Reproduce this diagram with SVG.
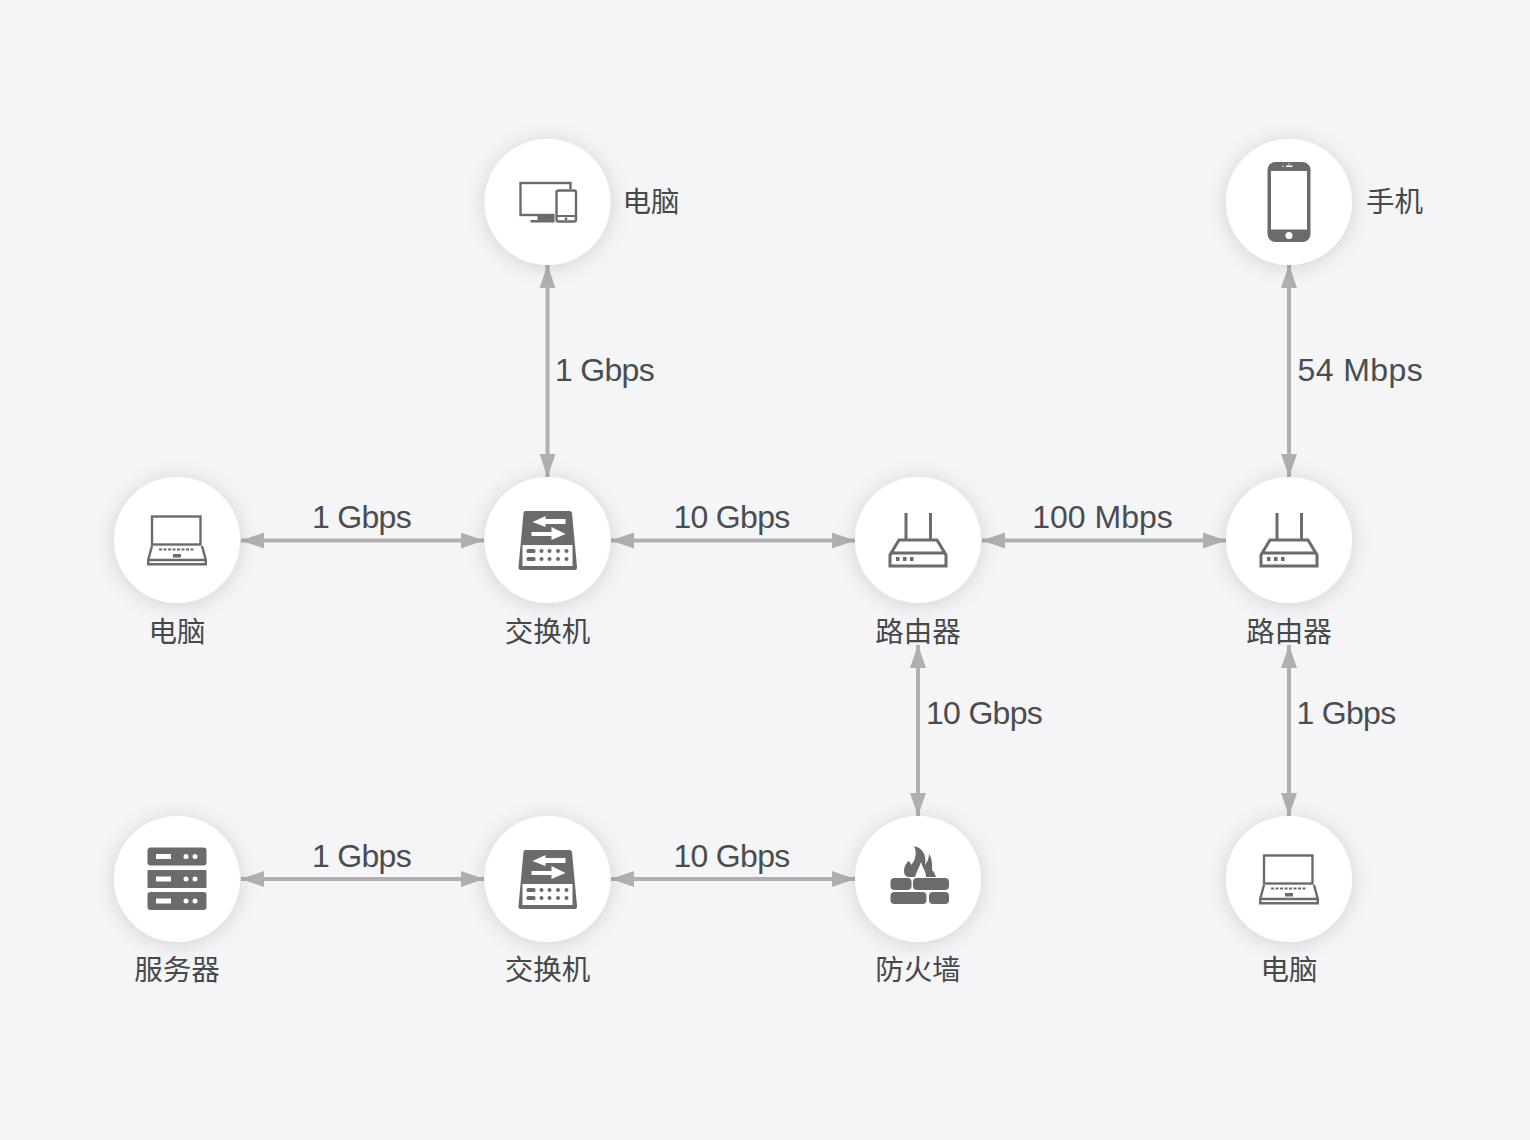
<svg xmlns="http://www.w3.org/2000/svg" width="1530" height="1140" viewBox="0 0 1530 1140">
<style>
.bg{fill:#f5f5f7}
.c{fill:#fff;filter:url(#sh)}
.i{fill:#6b6b6d}
.s{fill:none;stroke:#6b6b6d;stroke-width:3}
.s2{fill:none;stroke:#6b6b6d;stroke-width:2.4}
.w{fill:#fff}
.l{stroke:#b0b0b0;stroke-width:4;fill:none;marker-start:url(#a);marker-end:url(#a)}
.t{font-family:"Liberation Sans",sans-serif;font-size:32px;fill:#4a4d50}
.g{letter-spacing:-.7px}
.z{font-family:"Noto Sans CJK SC",sans-serif;font-size:28.500px;fill:#46484a;font-weight:400}
.m{text-anchor:middle}
</style>
<defs>
<filter id="sh" x="-30%" y="-30%" width="160%" height="160%"><feDropShadow dx="0" dy="2" stdDeviation="10" flood-color="#000" flood-opacity=".15"/></filter>
<marker id="a" markerUnits="userSpaceOnUse" markerWidth="24" markerHeight="18" refX="23" refY="8" orient="auto-start-reverse" viewBox="0 0 24 16"><path d="M0 0L23 8L0 16Z" fill="#b0b0b0"/></marker>
<g id="laptop">
<rect class="s2" x="-25" y="-23.500" width="48.500" height="28"/>
<path class="s2" d="M-25 6L-28.800 20V24.200H28.800V20L25 6M-28.800 20H28.800"/>
<path d="M-18 9.500h35" stroke="#6b6b6d" stroke-width="2.200" stroke-dasharray="3 1.500" fill="none"/>
<rect class="i" x="-4" y="14" width="8" height="3.500"/>
</g>
<g id="switch">
<path class="i" d="M-22 -29H22Q24 -29 24.500 -27L29.500 27V28Q29.500 30 27.500 30H-27Q-29 30 -29 28V27L-24 -27Q-24 -29 -22 -29Z"/>
<rect class="w" x="-25" y="5" width="50" height="21"/>
<path class="w" d="M-15 -18L-2 -24V-21H18V-16H-2V-13Z"/>
<path class="w" d="M18 -6L4 -13V-8H-16V-4H4V0Z"/>
<g class="i"><rect x="-21" y="9" width="9" height="4" rx="1.500"/><rect x="-21" y="17" width="9" height="4" rx="1.500"/>
<circle cx="-6" cy="11" r="2"/><circle cx="2" cy="11" r="2"/><circle cx="10.500" cy="11" r="2"/><circle cx="19" cy="11" r="2"/>
<circle cx="-6" cy="19" r="2"/><circle cx="2" cy="19" r="2"/><circle cx="10.500" cy="19" r="2"/><circle cx="19" cy="19" r="2"/></g>
</g>
<g id="router">
<path class="s" d="M-12 -27V0M12.500 -27V0M-28 26V15L-19 0H19L28 15V26ZM-28 13H28"/>
<g class="i"><rect x="-22" y="17" width="3.500" height="4"/><rect x="-15" y="17" width="3.500" height="4"/><rect x="-8" y="17" width="3.500" height="4"/></g>
</g>
</defs>
<rect class="bg" width="1530" height="1140"/>
<g id="connectors">
<line class="l" x1="547.500" y1="265" x2="547.500" y2="477"/>
<line class="l" x1="1289" y1="265" x2="1289" y2="477"/>
<line class="l" x1="241" y1="540.500" x2="484" y2="540.500"/>
<line class="l" x1="611" y1="540.500" x2="855" y2="540.500"/>
<line class="l" x1="982" y1="540.500" x2="1226" y2="540.500"/>
<line class="l" x1="918" y1="645" x2="918" y2="816"/>
<line class="l" x1="1289" y1="645" x2="1289" y2="816"/>
<line class="l" x1="241" y1="879" x2="484" y2="879"/>
<line class="l" x1="611" y1="879" x2="855" y2="879"/>
</g>
<g id="edge-labels">
<text class="t g" x="555" y="381">1 Gbps</text>
<text class="t" x="1297.500" y="381" style="letter-spacing:.4px">54 Mbps</text>
<text class="t g m" x="361.500" y="528">1 Gbps</text>
<text class="t g m" x="731.500" y="528">10 Gbps</text>
<text class="t m" x="1102.500" y="528">100 Mbps</text>
<text class="t g" x="926" y="724">10 Gbps</text>
<text class="t g" x="1296.500" y="724">1 Gbps</text>
<text class="t g m" x="361.500" y="867">1 Gbps</text>
<text class="t g m" x="731.500" y="867">10 Gbps</text>
</g>
<g id="node-pc-top"><circle class="c" cx="547.500" cy="202" r="63"/>
<g transform="translate(547.500 202)">
<rect class="s2" x="-27" y="-19" width="50" height="32"/>
<rect class="w" x="7" y="-13" width="24" height="35"/>
<rect class="s2" x="9" y="-11.500" width="19.500" height="31" rx="2"/>
<rect class="i" x="9" y="13" width="19" height="2"/>
<circle class="i" cx="18.500" cy="16.800" r="1.500"/>
<path class="i" d="M-10 14H7V18H-10ZM-17 18H7V20.500H-17Z"/>
</g>
<text class="z" x="622.500" y="211.500">电脑</text></g>
<g id="node-phone"><circle class="c" cx="1289" cy="202" r="63"/>
<g transform="translate(1289 202)">
<rect class="i" x="-21.500" y="-40" width="43" height="80" rx="8"/>
<rect class="w" x="-18" y="-31" width="36" height="58.500"/>
<circle class="w" cx="0" cy="33.500" r="3.500"/>
<rect class="w" x="-3" y="-36.500" width="6.500" height="1.500"/>
<circle class="w" cx="0" cy="-38" r=".7"/><circle class="w" cx="-6" cy="-35.800" r=".7"/>
</g>
<text class="z" x="1366" y="211.500">手机</text></g>
<g id="node-laptop-left"><circle class="c" cx="177" cy="540" r="63"/><use href="#laptop" x="177" y="540"/><text class="z m" x="177" y="641.500">电脑</text></g>
<g id="node-switch-1"><circle class="c" cx="547.500" cy="540" r="63"/><use href="#switch" x="547.500" y="540"/><text class="z m" x="547.500" y="641.500">交换机</text></g>
<g id="node-router-1"><circle class="c" cx="918" cy="540" r="63"/><use href="#router" x="918" y="540"/><text class="z m" x="918" y="641.500">路由器</text></g>
<g id="node-router-2"><circle class="c" cx="1289" cy="540" r="63"/><use href="#router" x="1289" y="540"/><text class="z m" x="1289" y="641.500">路由器</text></g>
<g id="node-server"><circle class="c" cx="177" cy="879" r="63"/>
<g transform="translate(177 879)">
<g class="i"><rect x="-29.500" y="-31.500" width="59" height="18" rx="3"/><rect x="-29.500" y="-9" width="59" height="18" rx="1"/><rect x="-29.500" y="13" width="59" height="18" rx="3"/></g>
<g class="w"><rect x="-21" y="-25" width="15" height="5"/><rect x="-21" y="-2.500" width="15" height="5"/><rect x="-21" y="19.500" width="15" height="5"/>
<circle cx="9" cy="-22.500" r="2.500"/><circle cx="18" cy="-22.500" r="2.500"/><circle cx="9" cy="0" r="2.500"/><circle cx="18" cy="0" r="2.500"/><circle cx="9" cy="22" r="2.500"/><circle cx="18" cy="22" r="2.500"/></g>
</g>
<text class="z m" x="177" y="979.500">服务器</text></g>
<g id="node-switch-2"><circle class="c" cx="547.500" cy="879" r="63"/><use href="#switch" x="547.500" y="879"/><text class="z m" x="547.500" y="979.500">交换机</text></g>
<g id="node-firewall"><circle class="c" cx="918" cy="879" r="63"/>
<g transform="translate(918 879)">
<g class="i"><rect x="-27.500" y="-1" width="21" height="12" rx="4"/><rect x="-5" y="-1" width="36" height="12" rx="4"/><rect x="-27.500" y="13" width="36" height="12" rx="4"/><rect x="11" y="13" width="20" height="12" rx="4"/>
<path d="M-4 -33C5 -31 9 -23 7 -14C10 -18 11 -22 11 -25C15 -19 14 -12 14 -9C16 -7 17 -5 18 -2H8C8 -8 4 -12 3 -17C1 -11 -2 -6 -3 -2H-10C-14 -3 -15 -8 -13 -13L-10 -18C-8 -17 -7 -16 -7 -14C-2 -19 -1 -27 -4 -33Z"/></g>
</g>
<text class="z m" x="918" y="979.500">防火墙</text></g>
<g id="node-laptop-right"><circle class="c" cx="1289" cy="879" r="63"/><use href="#laptop" x="1289" y="879"/><text class="z m" x="1289" y="979.500">电脑</text></g>
</svg>
